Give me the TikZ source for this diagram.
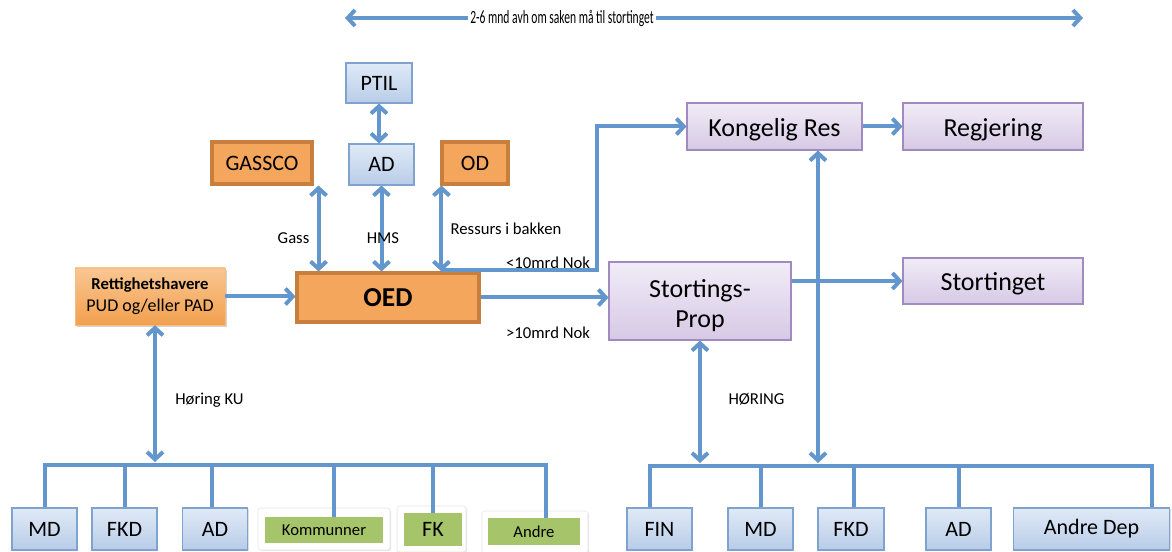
\documentclass[tikz,border=0pt]{standalone}
\usepackage{fontspec}
\setmainfont{Carlito}
\usetikzlibrary{arrows.meta,shadows,calc}
\definecolor{lnblue}{RGB}{98,150,204}
\definecolor{bxblueT}{RGB}{224,234,247}
\definecolor{bxblueB}{RGB}{184,204,232}
\definecolor{bxblueD}{RGB}{128,162,206}
\definecolor{lavT}{RGB}{241,236,247}
\definecolor{lavB}{RGB}{214,201,229}
\definecolor{lavD}{RGB}{162,138,192}
\definecolor{orF}{RGB}{244,166,92}
\definecolor{orD}{RGB}{200,126,60}
\definecolor{rettT}{RGB}{249,198,146}
\definecolor{rettB}{RGB}{242,160,78}
\definecolor{grn}{RGB}{166,196,106}
\tikzset{
  sz/.style 2 args={minimum width=#1*0.75pt, minimum height=#2*0.75pt, inner sep=0pt},
  shad/.style={drop shadow={opacity=0.25, shadow xshift=1.1pt, shadow yshift=-1.1pt}},
  bluebox/.style={draw=bxblueD, line width=0.8pt, top color=bxblueT, bottom color=bxblueB, shad, font=\fontsize{16.5}{18}\selectfont},
  lavbox/.style={draw=lavD, line width=0.8pt, top color=lavT, bottom color=lavB, shad, font=\fontsize{19.5}{22}\selectfont, align=center},
  lavone/.style={lavbox, text height=15pt, text depth=0pt},
  orbox/.style={draw=orD, fill=orF, line width=2.3pt, font=\fontsize{16.5}{18}\selectfont},
  rettbox/.style={draw=rettB!70!white, line width=0.4pt, top color=rettT, bottom color=rettB, drop shadow={opacity=0.35, shadow xshift=1.5pt, shadow yshift=-1.5pt}, align=center, font=\fontsize{13}{16.5}\selectfont},
  whitebox/.style={fill=white, draw=black!10, line width=0.4pt, rounded corners=2pt, drop shadow={opacity=0.2, shadow xshift=0.8pt, shadow yshift=-0.8pt}},
  grnbox/.style={fill=grn, font=\fontsize{12.5}{14}\selectfont},
  lbl/.style={font=\fontsize{12.5}{14}\selectfont, inner sep=1pt},
  conn/.style={draw=lnblue, line width=3pt, line join=miter},
  arr/.style={conn, -{Straight Barb[length=5.5pt,width=12pt]}},
  dbl/.style={conn, {Straight Barb[length=5.5pt,width=12pt]}-{Straight Barb[length=5.5pt,width=12pt]}}
}
\begin{document}
\begin{tikzpicture}[x=0.75pt,y=-0.75pt]
\useasboundingbox (0,0) rectangle (1172,552);

% top arrow
\coordinate (tl) at (345,18);
\coordinate (tr) at (1083,18);
\draw[dbl] (tl) -- (tr);
\node[fill=white, inner sep=2pt] (toptext) at (562,18.5) {\scalebox{0.62}[1]{\fontsize{14}{16}\selectfont 2-6 mnd avh om saken må til stortinget}};

% upper left
\node[bluebox, sz={66}{40}] (ptil) at (379,83) {PTIL};
\node[bluebox, sz={65}{41}] (adt) at (381.5,164.5) {AD};
\node[orbox, sz={100}{42}] (gassco) at (262,163) {GASSCO};
\node[orbox, sz={66}{42}] (od) at (475,163) {OD};
\node[orbox, sz={182}{49}, font=\fontsize{20.5}{22}\selectfont\bfseries] (oed) at (388,297.5) {OED};
\node[rettbox, sz={150}{57}] (rett) at (150,296.5) {{\fontsize{12.5}{16.5}\selectfont\bfseries Rettighetshavere}\\{\fontsize{13.5}{16.5}\selectfont PUD og/eller PAD}};

% right
\node[lavbox, sz={182}{78}, text depth=0pt] (sp) at (700,301) {\raisebox{-4pt}{Stortings-}\\\raisebox{-4pt}{Prop}};
\node[lavone, sz={175}{47}] (kr) at (774.5,126.5) {Kongelig Res};
\node[lavone, sz={180}{47}] (reg) at (993,126.5) {Regjering};
\node[lavone, sz={180}{46}] (sting) at (993,281) {Stortinget};

% bottom left
\node[bluebox, sz={65}{42}] (md) at (44.5,529) {MD};
\node[bluebox, sz={65}{42}] (fkd) at (124.5,529) {FKD};
\node[bluebox, sz={65}{42}] (adl) at (215,529) {AD};
\node[whitebox, sz={132}{42}] (komw) at (324,529) {};
\node[grnbox, sz={118}{26}] (kom) at (324,530) {Kommunner};
\node[whitebox, sz={69}{46}] (fkw) at (431.5,529) {};
\node[grnbox, sz={58}{33}, font=\fontsize{16.5}{18}\selectfont] (fk) at (433,529.5) {FK};
\node[whitebox, sz={106}{42}] (andw) at (535,532) {};
\node[grnbox, sz={92}{27}] (and) at (534,531.5) {Andre};

% bottom right
\node[bluebox, sz={65}{42}] (fin) at (659.5,529) {FIN};
\node[bluebox, sz={65}{42}] (mdr) at (760.5,529) {MD};
\node[bluebox, sz={66}{42}] (fkdr) at (851,529) {FKD};
\node[bluebox, sz={65}{42}] (adr) at (958.5,529) {AD};
\node[bluebox, sz={156}{42}] (adep) at (1091.5,529) {Andre Dep};

% bus coordinates
\coordinate (busL) at (0,465);
\coordinate (busLt) at (0,462);
\coordinate (busR) at (0,466);
\coordinate (busRt) at (0,463);

% connectors upper
\draw[dbl] (ptil.south) -- (ptil.south |- adt.north);
\coordinate (gx) at ($(gassco.south east)+(5,0)$);
\draw[dbl] (gx) -- (gx |- oed.north);
\draw[dbl] (adt.south) -- (adt.south |- oed.north);
\coordinate (ox) at ($(od.south west)+(1,0)$);
\draw[dbl] (ox) -- (ox |- oed.north);
\coordinate (turn) at (597,0);
\draw[arr] ($(ox |- oed.north)+(0,-1.5)$) -- ($(turn |- oed.north)+(0,-1.5)$) |- (kr.west);
\draw[arr] (rett.east) -- (rett.east -| oed.west);
\draw[arr] (oed.east) -- (oed.east -| sp.west);
\draw[arr] (kr.east) -- (reg.west);
\draw[arr] (sting.west -| sp.east) -- (sting.west);

% labels
\node[lbl] (lgass) at (293.5,238) {Gass};
\node[lbl] (lhms) at (383,238) {HMS};
\node[lbl] (lres) at (506,229) {Ressurs i bakken};
\node[lbl] (llt) at (548,263) {<10mrd Nok};
\node[lbl] (lgt) at (548,333) {>10mrd Nok};
\node[lbl] (lku) at (209.5,400) {Høring KU};
\node[lbl] (lhor) at (756.5,399) {HØRING};

% left bus
\coordinate (rx) at ($(rett.south)+(5,0)$);
\draw[dbl] (rx) -- (rx |- busLt);
\coordinate (komx) at ($(kom.north)+(10,0)$);
\coordinate (andx) at ($(and.north)+(12,0)$);
\coordinate (adlx) at ($(adl.north)+(-3,0)$);
\draw[conn] (md.north) -- (md.north |- busL) -- (andx |- busL) -- (andx);
\draw[conn] (fkd.north) -- (fkd.north |- busL);
\draw[conn] (adlx) -- (adlx |- busL);
\draw[conn] (komx) -- (komx |- busL);
\draw[conn] (fk.north) -- (fk.north |- busL);

% right bus
\coordinate (finx) at ($(fin.north)+(-9.5,0)$);
\coordinate (adepx) at ($(adep.north)+(60.5,0)$);
\coordinate (fkdrx) at ($(fkdr.north)+(3,0)$);
\draw[conn] (finx) -- (finx |- busR) -- (adepx |- busR) -- (adepx);
\draw[conn] (mdr.north) -- (mdr.north |- busR);
\draw[conn] (fkdrx) -- (fkdrx |- busR);
\draw[conn] (adr.north) -- (adr.north |- busR);
\draw[dbl] (sp.south) -- (sp.south |- busRt);
\coordinate (krx) at ($(kr.south)+(43.5,0)$);
\draw[dbl] (krx) -- (krx |- busRt);
\end{tikzpicture}
\end{document}
